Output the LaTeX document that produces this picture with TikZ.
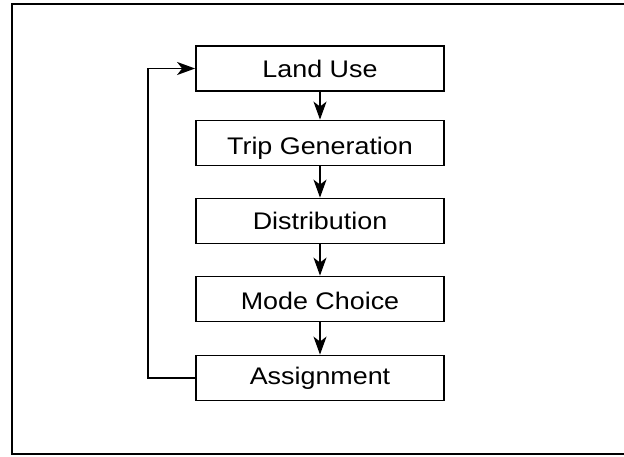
\documentclass[tikz,border=0pt]{standalone}
\usepackage{fontspec}
\setmainfont{Liberation Sans}[FakeStretch=1.12]
\usetikzlibrary{arrows.meta}
\begin{document}
\begin{tikzpicture}[x=1pt,y=-1pt,
  stepbox/.style={draw, line width=1.8pt, minimum width=248pt, minimum height=45pt, inner sep=0pt,
    font=\fontsize{24}{27}\selectfont},
  conn/.style={line width=1.7pt, -{Stealth[length=18pt,width=13pt,inset=5pt]}}]
\useasboundingbox (0,0) rectangle (624,456);
\clip (0,0) rectangle (624,456);
\draw[line width=2pt] (640,4) -- (12,4) -- (12,454) -- (640,454);
\node[stepbox] (lu) at (320,68.5) {Land Use};
\node[stepbox] (tg) at (320,143) {\raisebox{-5pt}[\height][\depth]{Trip Generation}};
\node[stepbox] (di) at (320,221) {Distribution};
\node[stepbox] (mc) at (320,299) {\raisebox{-2pt}[\height][\depth]{Mode Choice}};
\node[stepbox] (as) at (320,378) {Assignment};
\draw[conn] (lu) -- (tg);
\draw[conn] (tg) -- (di);
\draw[conn] (di) -- (mc);
\draw[conn] (mc) -- (as);
\coordinate (fb) at (148,0);
\draw[conn] (as.west) -| (fb |- lu.west) -- (lu.west);
\end{tikzpicture}
\end{document}
